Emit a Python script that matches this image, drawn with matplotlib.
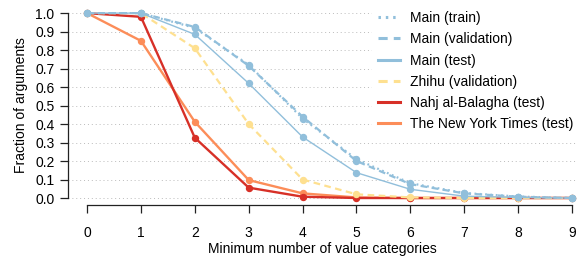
"""
Fraction of arguments vs. minimum number of value categories.
"""

import matplotlib
matplotlib.use("Agg")
import matplotlib.pyplot as plt
from matplotlib.lines import Line2D

# -------------------- Data --------------------
min_categories = [0, 1, 2, 3, 4, 5, 6, 7, 8, 9]

main_train = [1.0, 1.0, 0.92, 0.72, 0.43, 0.21, 0.08, 0.027, 0.008, 0.0]
main_validation = [1.0, 1.0, 0.925, 0.715, 0.44, 0.20, 0.075, 0.025, 0.007, 0.0]
main_test = [1.0, 1.0, 0.885, 0.62, 0.33, 0.137, 0.047, 0.01, 0.003, 0.0]
zhihu_validation = [1.0, 1.0, 0.81, 0.40, 0.10, 0.02, 0.003, 0.0, 0.0, 0.0]
nahj_test = [1.0, 0.98, 0.326, 0.056, 0.007, 0.0, 0.0, 0.0, 0.0, 0.0]
nyt_test = [1.0, 0.85, 0.412, 0.097, 0.025, 0.003, 0.0, 0.0, 0.0, 0.0]

BLUE = "#91bfdb"
YELLOW = "#fee090"
RED = "#d73027"
ORANGE = "#fc8d59"

plt.rcParams["font.family"] = ["Liberation Sans", "DejaVu Sans"]
plt.rcParams["font.size"] = 10

# -------------------- Plot --------------------
fig = plt.figure(figsize=(5.8, 2.6), dpi=100)
ax = fig.add_axes([0.1166, 0.210, 0.879, 0.768])

ms = 4.3
ax.plot(min_categories, nyt_test, color=ORANGE, lw=1.7, marker="o", ms=ms, clip_on=False)
ax.plot(min_categories, nahj_test, color=RED, lw=1.7, marker="o", ms=ms, clip_on=False)
ax.plot(min_categories, zhihu_validation, color=YELLOW, lw=1.6, ls=(0, (3, 2)),
        marker="o", ms=ms, clip_on=False)
ax.plot(min_categories, main_test, color=BLUE, lw=1.0, marker="o", ms=ms, clip_on=False)
ax.plot(min_categories, main_validation, color=BLUE, lw=1.6, ls=(0, (3, 2)),
        marker="o", ms=ms, clip_on=False)
ax.plot(min_categories, main_train, color=BLUE, lw=1.6, ls=(0, (0.8, 1.6)),
        marker="o", ms=ms, clip_on=False)

# R-style axes
ax.set_xlim(-0.36, 9.1)
ax.set_ylim(-0.04, 1.04)
for s in ["top", "right"]:
    ax.spines[s].set_visible(False)
ax.spines["left"].set_bounds(0, 1)
ax.spines["bottom"].set_bounds(0, 9)
for s in ["left", "bottom"]:
    ax.spines[s].set_linewidth(0.9)
    ax.spines[s].set_color("#222222")

ax.set_xticks(min_categories)
ax.set_yticks([i / 10 for i in range(11)])
ax.set_yticklabels([f"{i / 10:.1f}" for i in range(11)])
ax.tick_params(axis="both", length=5.5, width=0.9, color="#222222")
ax.tick_params(axis="x", pad=9)
ax.tick_params(axis="y", pad=4)

ax.yaxis.grid(True, linestyle=(0, (1, 3)), color="#bbbbbb", lw=0.7)
ax.set_axisbelow(True)

ax.set_xlabel("Minimum number of value categories", labelpad=1.5)
ax.set_ylabel("Fraction of arguments", labelpad=5)

# Legend
handles = [
    Line2D([], [], color=BLUE, lw=2.2, ls=(0, (0.8, 1.6))),
    Line2D([], [], color=BLUE, lw=2.2, ls=(0, (3, 2))),
    Line2D([], [], color=BLUE, lw=2.2),
    Line2D([], [], color=YELLOW, lw=2.2, ls=(0, (3, 2))),
    Line2D([], [], color=RED, lw=2.2),
    Line2D([], [], color=ORANGE, lw=2.2),
]
labels = ["Main (train)", "Main (validation)", "Main (test)",
          "Zhihu (validation)", "Nahj al-Balagha (test)", "The New York Times (test)"]
leg = ax.legend(handles, labels, loc="upper left",
                bbox_to_anchor=(372 / 580, 1 - 5.5 / 260), bbox_transform=fig.transFigure,
                frameon=True, fancybox=False, facecolor="white", edgecolor="none",
                framealpha=1, handlelength=1.6, handletextpad=0.72,
                labelspacing=0.52, borderpad=0.4, borderaxespad=0)

fig.savefig("out.png", dpi=100)
